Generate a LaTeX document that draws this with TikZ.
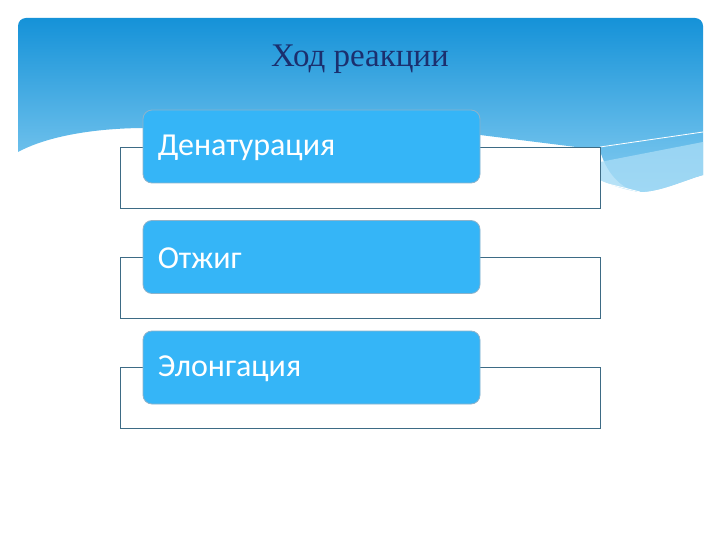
\documentclass[tikz,border=0pt]{standalone}
\usepackage{fontspec}
\setmainfont{Liberation Serif}
\newfontfamily\boxfont{Carlito}
\usetikzlibrary{positioning}

\definecolor{hdrtop}{HTML}{1592D8}
\definecolor{hdrbot}{HTML}{86CDF1}
\definecolor{streak}{HTML}{A6DBF5}
\definecolor{stepfill}{HTML}{35B5F7}
\definecolor{stepline}{HTML}{8DB3CB}
\definecolor{frameline}{HTML}{3D6B85}
\definecolor{titlecol}{HTML}{1B2F6E}

\tikzset{
  framebox/.style={draw=frameline, line width=0.8pt, fill=white,
    minimum width=480pt, minimum height=61pt, inner sep=0pt},
  stepbox/.style={draw=stepline, line width=0.8pt, fill=stepfill,
    rounded corners=9pt, minimum width=337pt, minimum height=73pt,
    inner sep=0pt},
  steptext/.style={text=white, font=\boxfont\fontsize{32}{36}\selectfont,
    anchor=west, inner sep=0pt}
}

\begin{document}
\begin{tikzpicture}[x=1pt, y=-1pt]
                \useasboundingbox[fill=white] (0,0) rectangle (720,540);

                % HEADER
                \shade[top color=hdrtop, bottom color=hdrbot]
                    (18,152) [rounded corners=8pt]-- (18,18) -- (703,18)
                    [sharp corners]-- (703,175)
                    .. controls (685,180) and (660,192) .. (640,192)
                    .. controls (620,190) and (605,170) .. (600,150)
                    -- (480,135) -- (140,128)
                    .. controls (80,129) and (40,140) .. (18,152) -- cycle;
                \fill[streak, opacity=0.8] (600,162) -- (703,142) -- (703,175)
                    .. controls (685,180) and (660,192) .. (640,192)
                    .. controls (625,190) and (610,185) .. (600,180) -- cycle;
                \draw[white, line width=0.8pt] (600,147) -- (703,132);
                \draw[white, line width=0.8pt] (600,182) -- (640,192);

                % TITLE
                \node[text=titlecol, font=\fontsize{33}{38}\selectfont] (title) at (360,59) {Ход реакции};

                % FRAMES
                \node[framebox] (f1) at (360,177.5) {};
                \node[framebox] (f2) at (360,287.5) {};
                \node[framebox] (f3) at (360,397.5) {};

                % STEPS
                \node[stepbox] (s1) at (311.5,146.5) {};
                \node[stepbox] (s2) at (311.5,257) {};
                \node[stepbox] (s3) at (311.5,367.5) {};

                \node[steptext] (t1) at ([xshift=15pt, yshift=-1pt] s1.west) {Денатурация};
                \node[steptext] (t2) at ([xshift=15pt, yshift=-1pt] s2.west) {Отжиг};
                \node[steptext] (t3) at ([xshift=15pt, yshift=-1pt] s3.west) {Элонгация};

\end{tikzpicture}
\end{document}
